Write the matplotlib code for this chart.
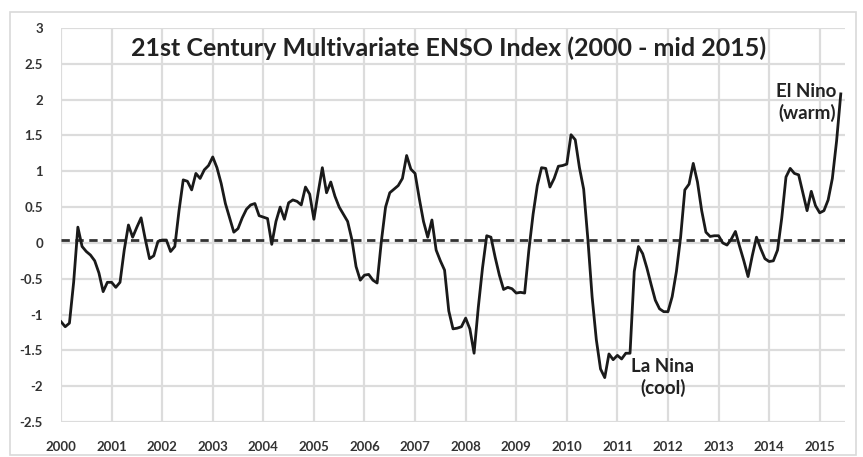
import matplotlib
matplotlib.use("Agg")
import matplotlib.pyplot as plt
import numpy as np
from matplotlib.patches import Rectangle

# monthly MEI values, Jan 2000 .. Jun 2015
mei_2000 = [-1.10, -1.17, -1.12, -0.55, 0.22, -0.05, -0.12, -0.17, -0.25, -0.42, -0.68, -0.55]
mei_2001 = [-0.55, -0.62, -0.55, -0.10, 0.25, 0.08, 0.22, 0.35, 0.05, -0.22, -0.18, 0.02]
mei_2002 = [0.04, 0.04, -0.12, -0.05, 0.45, 0.88, 0.86, 0.74, 0.97, 0.90, 1.02, 1.08]
mei_2003 = [1.20, 1.05, 0.83, 0.55, 0.35, 0.15, 0.20, 0.35, 0.47, 0.53, 0.55, 0.38]
mei_2004 = [0.36, 0.34, -0.02, 0.30, 0.50, 0.33, 0.56, 0.60, 0.58, 0.53, 0.78, 0.68]
mei_2005 = [0.33, 0.70, 1.05, 0.70, 0.85, 0.65, 0.50, 0.40, 0.30, 0.05, -0.33, -0.52]
mei_2006 = [-0.45, -0.44, -0.52, -0.56, 0.02, 0.50, 0.70, 0.75, 0.80, 0.90, 1.22, 1.03]
mei_2007 = [0.97, 0.62, 0.30, 0.08, 0.32, -0.10, -0.25, -0.38, -0.95, -1.20, -1.19, -1.17]
mei_2008 = [-1.05, -1.20, -1.54, -0.90, -0.35, 0.10, 0.08, -0.20, -0.45, -0.65, -0.62, -0.64]
mei_2009 = [-0.70, -0.69, -0.70, -0.10, 0.40, 0.80, 1.05, 1.04, 0.78, 0.90, 1.07, 1.08]
mei_2010 = [1.10, 1.51, 1.44, 1.05, 0.75, 0.05, -0.75, -1.35, -1.76, -1.88, -1.55, -1.63]
mei_2011 = [-1.57, -1.62, -1.54, -1.54, -0.40, -0.05, -0.15, -0.35, -0.58, -0.80, -0.92, -0.96]
mei_2012 = [-0.96, -0.75, -0.40, 0.08, 0.74, 0.82, 1.11, 0.85, 0.45, 0.15, 0.09, 0.10]
mei_2013 = [0.10, 0.00, -0.03, 0.05, 0.16, -0.05, -0.25, -0.47, -0.18, 0.08, -0.08, -0.22]
mei_2014 = [-0.26, -0.25, -0.10, 0.35, 0.92, 1.04, 0.97, 0.95, 0.70, 0.45, 0.72, 0.52]
mei_2015 = [0.42, 0.45, 0.60, 0.90, 1.42, 2.08]

mei = (mei_2000 + mei_2001 + mei_2002 + mei_2003 + mei_2004 + mei_2005 + mei_2006 +
       mei_2007 + mei_2008 + mei_2009 + mei_2010 + mei_2011 + mei_2012 + mei_2013 +
       mei_2014 + mei_2015)
baseline = 0.04
years = list(range(2000, 2016))
y_ticks = [3, 2.5, 2, 1.5, 1, 0.5, 0, -0.5, -1, -1.5, -2, -2.5]

plt.rcParams['font.family'] = ['Lato', 'DejaVu Sans']

fig = plt.figure(figsize=(8.63, 4.57), dpi=100)
fig.patches.append(Rectangle((10 / 863, 2 / 457), 846 / 863, 443 / 457, transform=fig.transFigure,
                             fill=False, edgecolor='#d9d9d9', linewidth=1.2))
ax = fig.add_axes([61 / 863, 1 - 422 / 457, 784 / 863, 394 / 457])

t = 2000 + np.arange(len(mei)) / 12.0
ax.plot(t, mei, color='#1a1a1a', linewidth=2.0, zorder=3)
ax.axhline(baseline, color='#333333', linewidth=2.0, linestyle=(0, (3, 2)), zorder=2)

ax.set_xlim(2000, 2015.5)
ax.set_ylim(-2.5, 3)
ax.set_xticks(years)
ax.set_xticklabels([str(y) for y in years], fontsize=9.5, fontweight='bold', color='#333333')
ax.set_yticks(y_ticks)
ax.set_yticklabels([f"{v:g}" for v in y_ticks], fontsize=9.5, fontweight='bold', color='#333333')
ax.grid(True, color='#dcdcdc', linewidth=1.6)
ax.set_axisbelow(True)
ax.tick_params(axis='x', length=0, pad=14)
ax.tick_params(axis='y', length=0, pad=13)
for s in ax.spines.values():
    s.set_visible(False)

ax.text(0.494, 0.949, "21st Century Multivariate ENSO Index (2000 - mid 2015)",
        transform=ax.transAxes, ha='center', va='center', fontsize=18, fontweight='bold',
        color='#222222')
ax.text(2015.33, 1.96, "El Nino\n(warm)", ha='right', va='center', fontsize=13.5,
        fontweight='bold', color='#222222', linespacing=1.25)
ax.text(2011.9, -1.88, "La Nina\n(cool)", ha='center', va='center', fontsize=13.5,
        fontweight='bold', color='#222222', linespacing=1.25)

fig.savefig("out.png", dpi=100)
